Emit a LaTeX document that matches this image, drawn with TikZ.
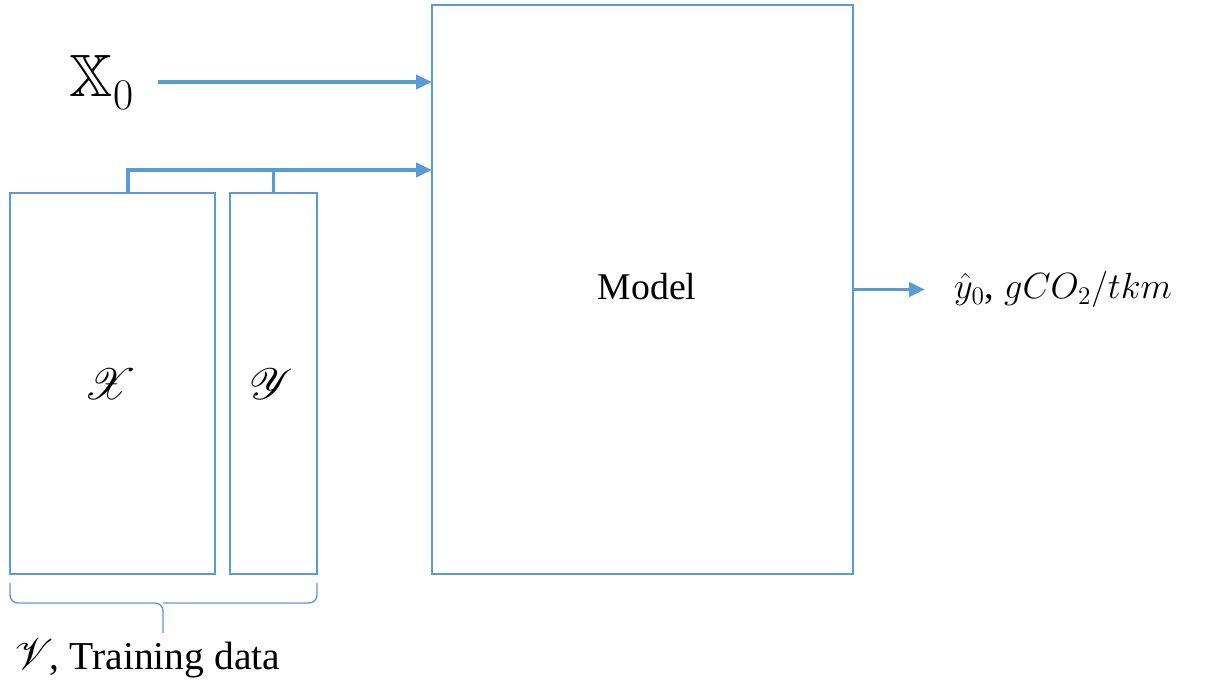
\documentclass[tikz,border=0pt]{standalone}
\usepackage{fontspec}
\setmainfont{Liberation Serif}
\usepackage{amsmath}
\usepackage{amssymb}
\usepackage{mathrsfs}
\usepackage{xcolor}
\usepackage{tikz}
\usetikzlibrary{arrows.meta,positioning,calc}
\definecolor{boxblue}{HTML}{5B9BD5}

\tikzset{
  block/.style={draw=boxblue, line width=0.8pt, inner sep=0pt, outer sep=0pt},
  link/.style={draw=boxblue, line width=2.2pt},
  arr/.style={link, -{Triangle[length=0.32cm,width=0.28cm]}},
  brace line/.style={draw=boxblue, line width=0.8pt, rounded corners=0.16cm}
}
\newcommand{\bigscr}[2][29]{{\fontsize{#1}{33}\selectfont$\mathscr{#2}$}}

\begin{document}
\begin{tikzpicture}[x=0.02cm, y=-0.02cm]
  \useasboundingbox (0,0) rectangle (1208,685);

  % the model and the two training blocks
  \node[block, minimum width=8.42cm, minimum height=11.38cm] (model) at (642.5,289.5) {};
  \node[font=\fontsize{21.5}{25}\selectfont] (modeltxt) at (647,287) {Model};
  \node[block, minimum width=4.1cm, minimum height=7.62cm] (xbox) at (112.5,383.5) {};
  \node[block, minimum width=1.74cm, minimum height=7.62cm] (ybox) at (273.5,383.5) {};
  \node (xlab) at (110,384) {\bigscr{X}};
  \node (ylab) at (271,384) {\bigscr{Y}};

  % new input
  \node[font=\fontsize{34}{40}\selectfont] (xnew) at (102,82) {$\mathbb{X}_0$};
  \draw[arr] ([xshift=0.36cm]xnew.east) -- (xnew.east -| model.west);

  % training data feeds the model
  \coordinate (bus) at (128,170);
  \draw[link] (bus |- xbox.north) -- (bus);
  \draw[link] (ybox.north) -- (ybox.north |- bus);
  \draw[arr] ([xshift=-1.1pt]bus) -- (bus -| model.west);

  % prediction
  \node[anchor=west, font=\fontsize{22}{27}\selectfont] (yhat) at (948,289.5) {$\hat{y}_0$, $gCO_2/tkm$};
  \draw[arr] (model.east) -- ([xshift=-0.46cm]yhat.west);

  % brace under the training data
  \draw[brace line] (10,583) -- (10,603) -- (163,603) -- (163,633);
  \draw[brace line] (317,583) -- (317,603) -- (163,603);
  \node[anchor=base west, font=\fontsize{22.5}{27}\selectfont] (vlab) at (8,670) {\bigscr[35]{V}\kern-2pt, Training data};
\end{tikzpicture}
\end{document}
